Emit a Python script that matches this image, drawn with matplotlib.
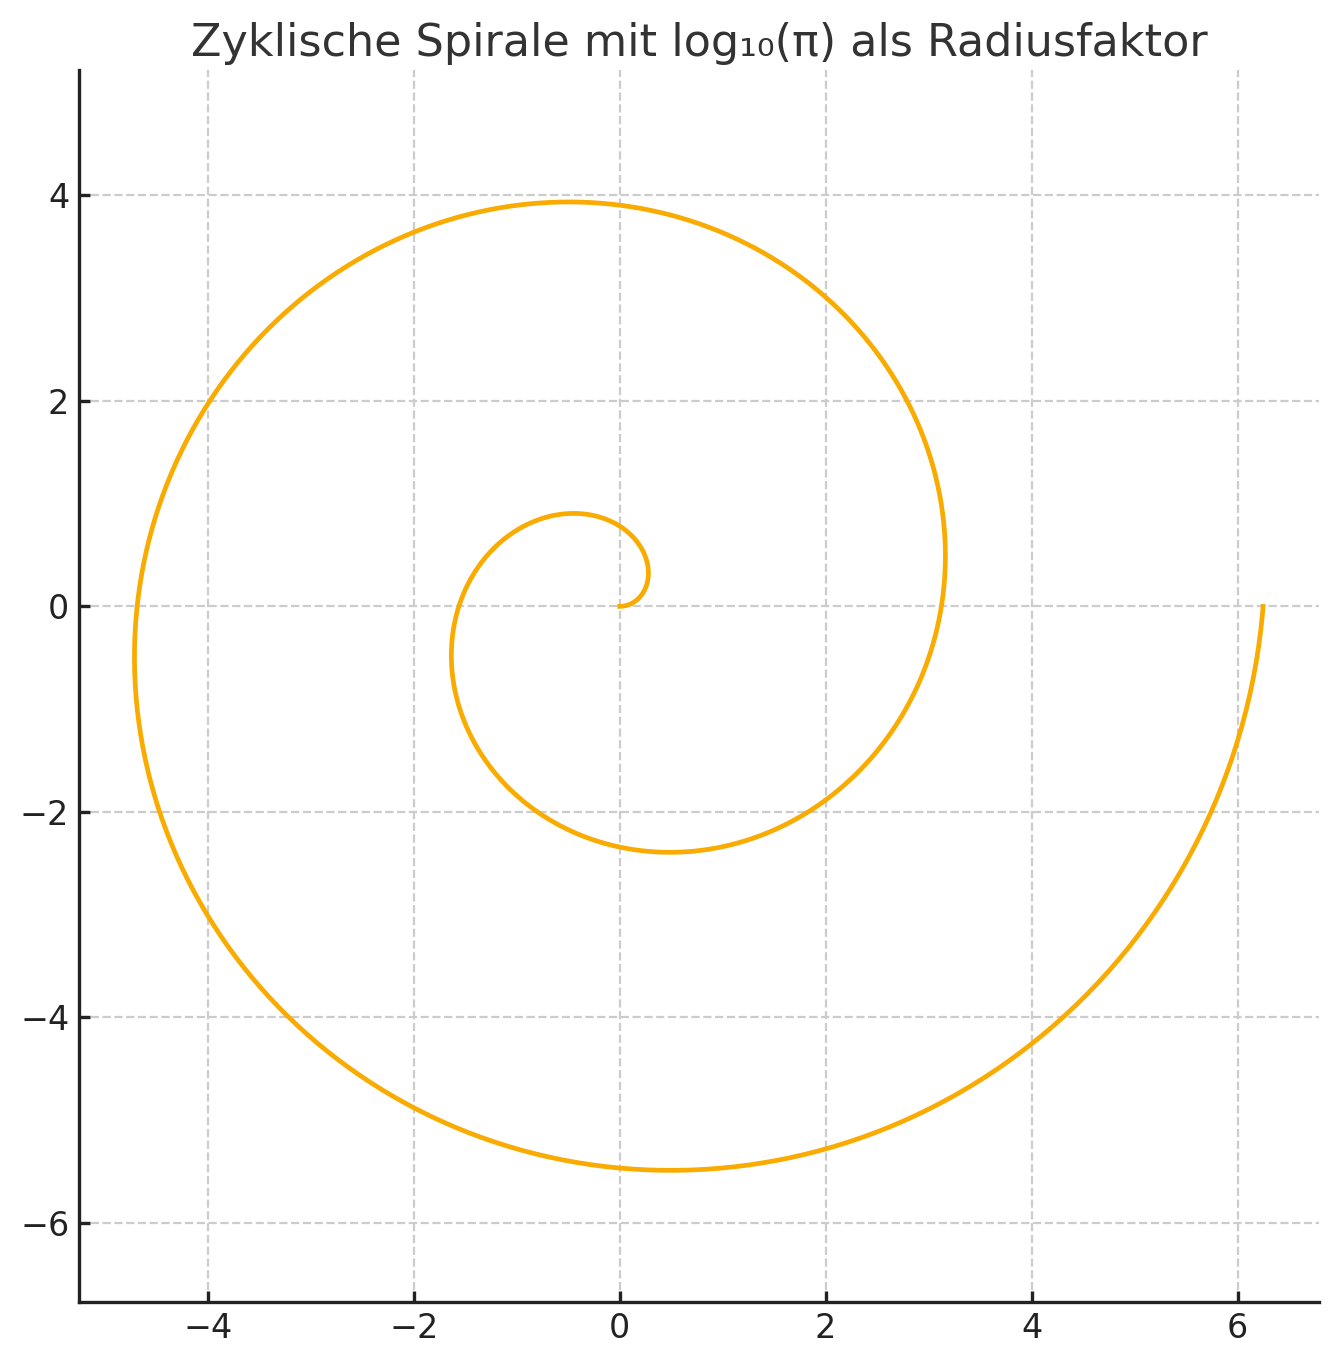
import numpy as np
import matplotlib
matplotlib.use("Agg")
import matplotlib.pyplot as plt

# Spiral parameters (the chart is a plot of r = log10(pi) * theta)
RADIUS_FACTOR = np.log10(np.pi)
THETA_START = 0.0
THETA_END = 4 * np.pi          # two full turns
N_POINTS = 1000

TITLE = "Zyklische Spirale mit log₁₀(π) als Radiusfaktor"
X_TICKS = [-4, -2, 0, 2, 4, 6]
Y_TICKS = [-6, -4, -2, 0, 2, 4]

theta = np.linspace(THETA_START, THETA_END, N_POINTS)
r = RADIUS_FACTOR * theta
x = r * np.cos(theta)
y = r * np.sin(theta)

plt.rcParams["font.family"] = ["DejaVu Sans"]

fig = plt.figure(figsize=(1339 / 200, 1365 / 200), dpi=200)
ax = fig.add_axes([79 / 1339, 1 - 1302 / 1365, 1240 / 1339, 1232 / 1365])

ax.plot(x, y, color="#F9AB00", lw=1.7)

ax.set_xticks(X_TICKS)
ax.set_yticks(Y_TICKS)
ax.set_xlim(-5.25, 6.79)
ax.set_ylim(-6.77, 5.22)
ax.set_aspect("equal", adjustable="datalim")

ax.grid(True, linestyle="--", color="#cccccc", lw=0.8)
ax.set_axisbelow(True)
for side in ("top", "right"):
    ax.spines[side].set_visible(False)
for side in ("left", "bottom"):
    ax.spines[side].set_linewidth(1.2)
    ax.spines[side].set_color("#222222")
ax.tick_params(direction="in", length=4, width=1.2, labelsize=12,
               colors="#222222", pad=3.5)

ax.set_title(TITLE, fontsize=16, color="#333333", pad=5)

fig.savefig("out.png", dpi=200)
